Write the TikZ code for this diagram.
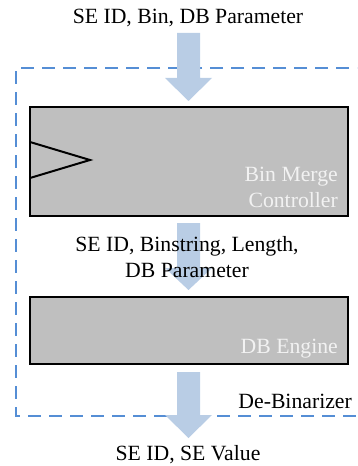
\documentclass[tikz,border=0pt]{standalone}
\usepackage{fontspec}
\setmainfont{Liberation Serif}
\definecolor{arrowblue}{RGB}{185,205,229}
\definecolor{dashblue}{RGB}{85,142,213}
\definecolor{boxgray}{RGB}{191,191,191}
\definecolor{boxtext}{RGB}{242,242,242}
\begin{document}
\begin{tikzpicture}[x=1bp,y=-1bp,
  txt/.style={font=\fontsize{21.8}{26}\selectfont, inner sep=0pt, align=center},
  blocktxt/.style={font=\fontsize{21.8}{26}\selectfont, inner sep=0pt, align=right, text=boxtext, anchor=east},
  block/.style={draw=black, line width=2bp, fill=boxgray},
  flow/.style={fill=arrowblue, draw=none},
  frame/.style={draw=dashblue, line width=1.5bp, dash pattern=on 13bp off 8bp}
]
\useasboundingbox (0,0) rectangle (357,466);
% dashed frame
\begin{scope}
\clip (0,0) rectangle (357,466);
\draw[frame] (370,68) -- (16,68) -- (16,416) -- (370,416);
\end{scope}
% flow arrows
\fill[flow] (177,33) -- (200,33) -- (200,78) -- (212,78) -- (188.5,101) -- (165,78) -- (177,78) -- cycle;
\fill[flow] (177,223) -- (200,223) -- (200,268) -- (212,268) -- (188.5,290) -- (165,268) -- (177,268) -- cycle;
\fill[flow] (177,372) -- (200,372) -- (200,415) -- (212,415) -- (188.5,438) -- (165,415) -- (177,415) -- cycle;
% blocks
\draw[block] (30,107) rectangle (348,216);
\coordinate (t1) at (30,142);
\coordinate (t2) at (90,160);
\coordinate (t3) at (30,178);
\draw[line width=2bp] (t1) -- (t2) -- (t3);
\node[blocktxt] (bmc) at (338,187) {Bin Merge\\Controller};
\draw[block] (30,297) rectangle (348,364);
\node[blocktxt] (dbe) at (338,349) {DB Engine};
% labels
\node[txt] (in) at (188,18) {SE ID, Bin, DB Parameter};
\node[txt] (mid) at (187,257) {SE ID, Binstring, Length,\\DB Parameter};
\node[txt, anchor=east] (deb) at (352,401) {De-Binarizer};
\node[txt] (out) at (188,455) {SE ID, SE Value};
\end{tikzpicture}
\end{document}
